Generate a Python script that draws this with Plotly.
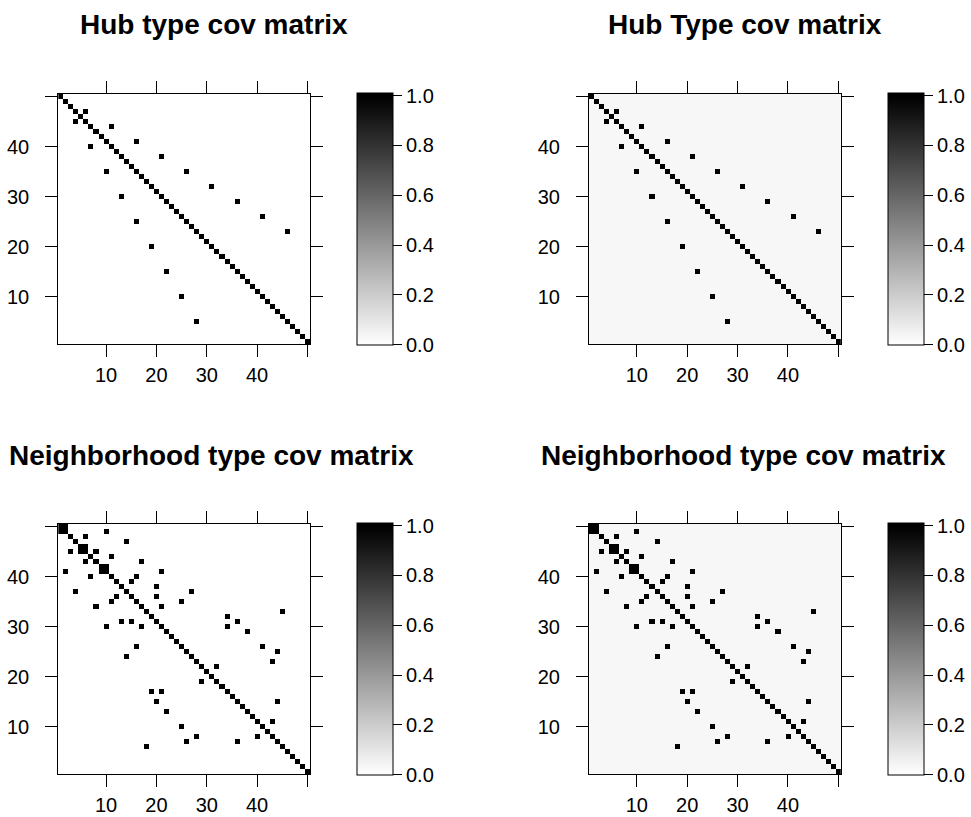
import plotly.graph_objects as go

N = 50
W, H = 971, 817

# Off-diagonal non-zero entries (i, j), 1-based, symmetric
hub_pairs = [(4, 6), (7, 11), (10, 16), (13, 21), (16, 26), (19, 31), (22, 36), (25, 41), (28, 46)]
nbr_pairs = [(1, 2), (3, 6), (2, 10), (4, 14), (5, 6), (6, 8), (7, 11), (8, 17), (9, 10),
             (10, 21), (11, 16), (12, 15), (13, 20), (14, 27), (15, 20), (16, 25), (17, 21),
             (18, 45), (19, 34), (20, 36), (21, 34), (22, 38), (25, 41), (26, 44), (28, 43),
             (29, 32), (36, 44), (40, 43)]
diag_value = 1.0
offdiag_value = 1.0
noise_level = 0.03  # estimated average level of the light grey background in the estimated matrices

titles = ["Hub type cov matrix", "Hub Type cov matrix",
          "Neighborhood type cov matrix", "Neighborhood type cov matrix"]
tick_vals = [10, 20, 30, 40, 50]
tick_text = ["10", "20", "30", "40", ""]
cb_vals = [0.0, 0.2, 0.4, 0.6, 0.8, 1.0]
cb_text = ["0.0", "0.2", "0.4", "0.6", "0.8", "1.0"]


def build(pairs, background):
    m = [[background] * N for _ in range(N)]
    for k in range(N):
        m[k][k] = diag_value
    for i, j in pairs:
        m[i - 1][j - 1] = offdiag_value
        m[j - 1][i - 1] = offdiag_value
    return m


mats = [build(hub_pairs, 0.0), build(hub_pairs, noise_level),
        build(nbr_pairs, 0.0), build(nbr_pairs, noise_level)]

# layout in pixels
panels = [
    dict(x0=58.2, x1=310.0, y0=94.0, y1=344.3, cbx=357.0, cby0=92.7, cby1=345.0, tx=214, ty=25),
    dict(x0=589.0, x1=840.8, y0=94.0, y1=344.3, cbx=887.8, cby0=92.7, cby1=345.0, tx=745, ty=25),
    dict(x0=58.2, x1=310.0, y0=524.0, y1=774.3, cbx=357.0, cby0=522.7, cby1=775.0, tx=211, ty=455),
    dict(x0=589.0, x1=840.8, y0=524.0, y1=774.3, cbx=887.8, cby0=522.7, cby1=775.0, tx=743, ty=455),
]

FONT = "Liberation Sans, Arial, Helvetica, sans-serif"
zmax = 1.012
cscale = [[0, "rgb(255,255,255)"], [1.0 / zmax, "rgb(0,0,0)"], [1, "rgb(0,0,0)"]]

fig = go.Figure()
xs = list(range(1, N + 1))
ys = list(range(N, 0, -1))

for k, (m, p) in enumerate(zip(mats, panels)):
    ax = "" if k == 0 else str(k + 1)
    fig.add_trace(go.Heatmap(
        z=m, x=xs, y=ys, xaxis="x" + ax, yaxis="y" + ax,
        zmin=0, zmax=zmax, colorscale=cscale, hoverinfo="skip",
        colorbar=dict(
            x=p["cbx"] / W, xanchor="left", xpad=0,
            y=1 - p["cby0"] / H, yanchor="top", ypad=0,
            lenmode="pixels", len=p["cby1"] - p["cby0"],
            thicknessmode="pixels", thickness=36,
            outlinewidth=1, outlinecolor="black",
            tickvals=cb_vals, ticktext=cb_text, ticks="outside", ticklen=9,
            tickwidth=1, tickcolor="black",
            tickfont=dict(family=FONT, size=20, color="black"),
        ),
    ))
    axis_common = dict(
        range=[0.5, 50.5], tickvals=tick_vals, ticktext=tick_text,
        ticks="outside", ticklen=12, tickwidth=1, tickcolor="black",
        showline=True, linecolor="black", linewidth=1, mirror="ticks",
        showgrid=False, zeroline=False, automargin=False,
        tickfont=dict(family=FONT, size=20, color="black"),
    )
    fig.layout["xaxis" + ax] = dict(axis_common, domain=[p["x0"] / W, p["x1"] / W],
                                    anchor="y" + ax, ticklabelstandoff=1)
    fig.layout["yaxis" + ax] = dict(axis_common, domain=[1 - p["y1"] / H, 1 - p["y0"] / H],
                                    anchor="x" + ax, ticklabelstandoff=12)
    fig.add_annotation(text="<b>" + titles[k] + "</b>", x=p["tx"] / W, y=1 - p["ty"] / H,
                       xref="paper", yref="paper", xanchor="center", yanchor="middle",
                       showarrow=False, font=dict(family=FONT, size=28, color="black"))

fig.update_layout(width=W, height=H, margin=dict(l=0, r=0, t=0, b=0),
                  paper_bgcolor="white", plot_bgcolor="white", showlegend=False)

fig.write_html("out.html", config={"displayModeBar": False},
               post_script="document.body.style.margin='0px';document.body.style.overflow='hidden';")
